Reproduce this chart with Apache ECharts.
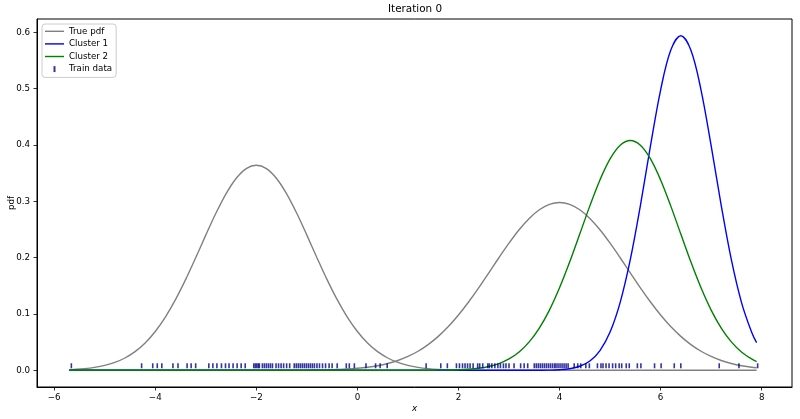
<!DOCTYPE html>
<html>
<head>
<meta charset="utf-8">
<script src="https://cdn.jsdelivr.net/npm/echarts@6/dist/echarts.min.js"></script>
<style>
html,body{margin:0;padding:0;background:#fff;}
#chart{width:800px;height:419px;}
</style>
</head>
<body>
<div id="chart"></div>
<script>
// ---- data ----
const xs = [-5.7, -5.6, -5.4, -5.2, -5.0, -4.8, -4.6, -4.4, -4.2, -4.0, -3.8, -3.6, -3.4, -3.2, -3.0, -2.8, -2.6, -2.4, -2.2, -2.0,
  -1.8, -1.6, -1.4, -1.2, -1.0, -0.8, -0.6, -0.4, -0.2, 0.0, 0.2, 0.4, 0.6, 0.8, 1.0, 1.2, 1.4, 1.6, 1.8, 2.0,
  2.2, 2.4, 2.6, 2.8, 3.0, 3.2, 3.4, 3.6, 3.8, 4.0, 4.2, 4.4, 4.6, 4.8, 5.0, 5.2, 5.4, 5.6, 5.8, 6.0,
  6.2, 6.4, 6.6, 6.8, 7.0, 7.2, 7.4, 7.6, 7.8, 7.9];

const truePdfLeft = [0.0012, 0.0016, 0.0029, 0.0051, 0.0086, 0.0139, 0.0218, 0.0330, 0.0484, 0.0688, 0.0944, 0.1253, 0.1609, 0.1998, 0.2400, 0.2788, 0.3133, 0.3405, 0.3580, 0.3640,
  0.3580, 0.3405, 0.3133, 0.2788, 0.2400, 0.1998, 0.1609, 0.1253, 0.0944, 0.0688, 0.0484, 0.0330, 0.0218, 0.0139, 0.0086, 0.0051, 0.0029, 0.0016, 0.0009, 0.0005,
  0.0002, 0.0001, 0, 0, 0, 0, 0, 0, 0, 0, 0, 0, 0, 0, 0, 0, 0, 0, 0, 0,
  0, 0, 0, 0, 0, 0, 0, 0, 0, 0];

const truePdfRight = [0, 0, 0, 0, 0, 0, 0, 0, 0, 0, 0, 0, 0, 0, 0, 0, 0, 0, 0, 0,
  0, 0, 0.0001, 0.0002, 0.0003, 0.0005, 0.0008, 0.0014, 0.0022, 0.0035, 0.0054, 0.0081, 0.0120, 0.0173, 0.0245, 0.0338, 0.0456, 0.0602, 0.0777, 0.0981,
  0.1212, 0.1463, 0.1729, 0.1998, 0.2257, 0.2495, 0.2696, 0.2850, 0.2947, 0.2980, 0.2947, 0.2850, 0.2696, 0.2495, 0.2257, 0.1998, 0.1729, 0.1463, 0.1212, 0.0981,
  0.0777, 0.0602, 0.0456, 0.0338, 0.0245, 0.0173, 0.0120, 0.0081, 0.0054, 0.0044];

const cluster1 = [0, 0, 0, 0, 0, 0, 0, 0, 0, 0, 0, 0, 0, 0, 0, 0, 0, 0, 0, 0,
  0, 0, 0, 0, 0, 0, 0, 0, 0, 0, 0, 0, 0, 0, 0, 0, 0, 0, 0, 0,
  0, 0, 0, 0, 0, 0, 0, 0.0001, 0.0003, 0.0010, 0.0028, 0.0071, 0.0164, 0.0349, 0.0678, 0.1206, 0.1963, 0.2925, 0.3987, 0.4976,
  0.5683, 0.5940, 0.5683, 0.4976, 0.3987, 0.2925, 0.1963, 0.1206, 0.0678, 0.0492];

const cluster2 = [0, 0, 0, 0, 0, 0, 0, 0, 0, 0, 0, 0, 0, 0, 0, 0, 0, 0, 0, 0,
  0, 0, 0, 0, 0, 0, 0, 0, 0, 0, 0, 0, 0, 0, 0, 0, 0.0001, 0.0002, 0.0005, 0.0010,
  0.0019, 0.0037, 0.0068, 0.0119, 0.0201, 0.0325, 0.0504, 0.0749, 0.1069, 0.1464, 0.1921, 0.2418, 0.2919, 0.3380, 0.3753, 0.3996, 0.4080, 0.3996, 0.3753, 0.3380,
  0.2919, 0.2418, 0.1921, 0.1464, 0.1069, 0.0749, 0.0504, 0.0325, 0.0201, 0.0155];

const trainData = [-5.66, -4.27, -4.05, -3.96, -3.87, -3.65, -3.55, -3.37, -3.29, -3.20, -2.94, -2.86, -2.78, -2.69, -2.61,
  -2.54, -2.46, -2.38, -2.30, -2.22, -2.05, -2.02, -1.99, -1.96, -1.94, -1.88, -1.84, -1.80, -1.76, -1.72, -1.68, -1.61,
  -1.56, -1.51, -1.46, -1.40, -1.34, -1.25, -1.21, -1.17, -1.13, -1.09, -1.05, -1.01, -0.97, -0.93, -0.89, -0.85, -0.80,
  -0.75, -0.69, -0.63, -0.56, -0.50, -0.40, -0.22, -0.16, -0.06, 0.17, 0.36, 0.45, 0.59,
  1.36, 1.65, 1.78, 1.96, 2.02, 2.08, 2.13, 2.18, 2.23, 2.29, 2.38, 2.42, 2.48, 2.58, 2.61, 2.66, 2.72, 2.78, 2.83, 2.89,
  2.94, 3.00, 3.10, 3.23, 3.30, 3.37, 3.50, 3.54, 3.58, 3.62, 3.66, 3.70, 3.74, 3.78, 3.82, 3.86, 3.90, 3.93, 3.97, 4.01,
  4.05, 4.09, 4.13, 4.17, 4.29, 4.36, 4.42, 4.52, 4.59, 4.75, 4.82, 4.86, 4.92, 4.98, 5.05, 5.11, 5.18, 5.23, 5.32, 5.38,
  5.54, 5.61, 5.88, 6.01, 6.27, 6.40, 7.16, 7.55, 7.92];
const trainLevel = 0.008;

const xTicks = [-6, -4, -2, 0, 2, 4, 6, 8];
const yTicks = [0, 0.1, 0.2, 0.3, 0.4, 0.5, 0.6];

// ---- chart ----
const FONT = 'DejaVu Sans';
const LINE_ICON = 'path://M0,0H19V1.4H0Z';
const pairs = (arr) => xs.map((x, i) => [x, arr[i]]);
const lineSeries = (name, arr, color) => ({
  name: name, type: 'line', data: pairs(arr), symbol: 'none', showSymbol: false,
  smooth: 0.35,
  lineStyle: { color: color, width: 1.4 }, itemStyle: { color: color },
  animation: false
});

const chart = echarts.init(document.getElementById('chart'), null, { renderer: 'canvas' });
chart.setOption({
  animation: false,
  backgroundColor: '#fff',
  title: {
    text: 'Iteration 0', left: 415, top: 4, textAlign: 'center', padding: 0,
    textStyle: { fontFamily: FONT, fontSize: 10.4, fontWeight: 'normal', color: '#000' }
  },
  grid: { left: 37, right: 8, top: 19, bottom: 32, show: true, borderColor: '#000', borderWidth: 1, containLabel: false, outerBoundsMode: 'none' },
  legend: {
    left: 42, top: 24, orient: 'vertical',
    padding: [1, 4, 2, 3], itemGap: 0, itemWidth: 19, itemHeight: 6,
    backgroundColor: 'rgba(255,255,255,0.8)', borderColor: '#ccc', borderWidth: 1, borderRadius: 3,
    textStyle: { fontFamily: FONT, fontSize: 8.7, color: '#000', lineHeight: 12.6 },
    data: [
      { name: 'True pdf', icon: LINE_ICON },
      { name: 'Cluster 1', icon: LINE_ICON },
      { name: 'Cluster 2', icon: LINE_ICON },
      { name: 'Train data', icon: 'path://M0,0H1V3H0Z' }
    ]
  },
  xAxis: {
    type: 'value', min: -6.34, max: 8.6,
    name: 'x', nameLocation: 'middle', nameGap: 17, nameMoveOverlap: false,
    nameTextStyle: { fontFamily: FONT, fontSize: 8.7, fontStyle: 'italic', color: '#000' },
    axisLine: { show: true, onZero: false, lineStyle: { color: '#000', width: 1 } },
    axisTick: { show: true, length: 3.5, customValues: xTicks, lineStyle: { color: '#000', width: 0.8 } },
    axisLabel: {
      customValues: xTicks, margin: 6, fontFamily: FONT, fontSize: 8.7, color: '#000',
      formatter: (v) => (v < 0 ? '\u2212' + Math.abs(v) : String(v))
    },
    splitLine: { show: false }
  },
  yAxis: {
    type: 'value', min: -0.0297, max: 0.6237,
    name: 'pdf', nameLocation: 'middle', nameGap: 21, nameRotate: 90, nameMoveOverlap: false,
    nameTextStyle: { fontFamily: FONT, fontSize: 8.7, color: '#000' },
    axisLine: { show: true, onZero: false, lineStyle: { color: '#000', width: 1 } },
    axisTick: { show: true, length: 3.5, customValues: yTicks, lineStyle: { color: '#000', width: 0.8 } },
    axisLabel: {
      customValues: yTicks, margin: 7, fontFamily: FONT, fontSize: 8.7, color: '#000',
      formatter: (v) => v.toFixed(1)
    },
    splitLine: { show: false }
  },
  series: [
    lineSeries('True pdf', truePdfLeft, '#808080'),
    lineSeries('True pdf', truePdfRight, '#808080'),
    lineSeries('Cluster 1', cluster1, '#0000ff'),
    lineSeries('Cluster 2', cluster2, '#008000'),
    {
      name: 'Train data', type: 'scatter', symbol: 'rect', symbolSize: [1.6, 5],
      data: trainData.map((x) => [x, trainLevel]),
      itemStyle: { color: '#00008b' }, z: 5, animation: false
    }
  ]
});
</script>
</body>
</html>
